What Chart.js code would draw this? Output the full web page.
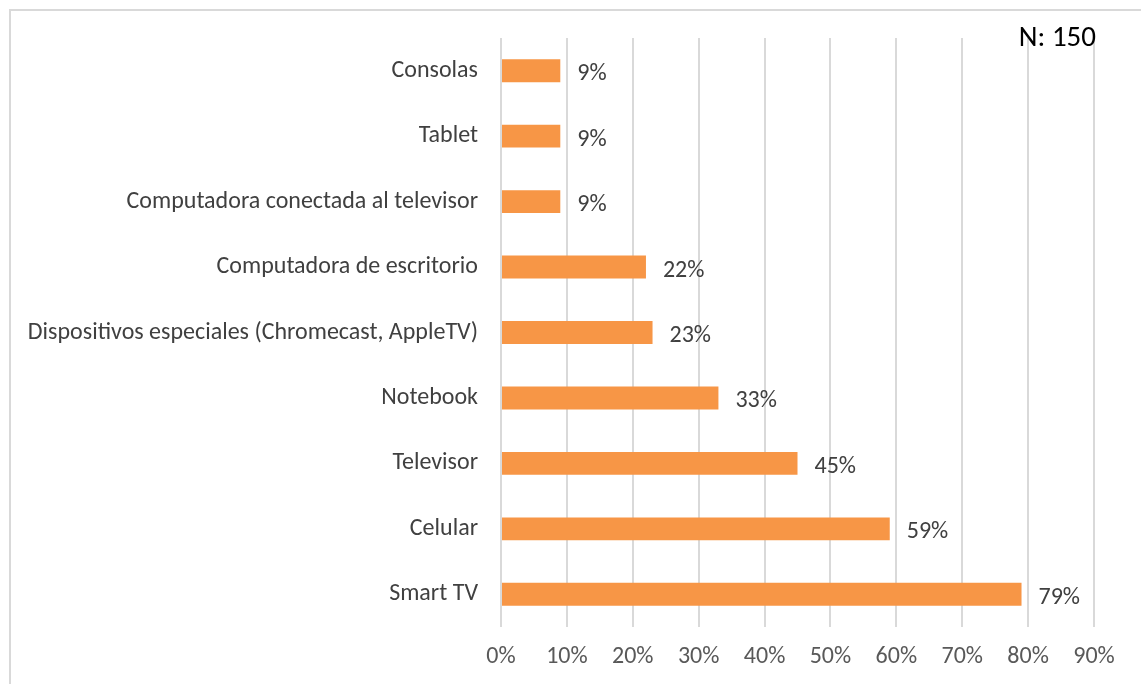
<!DOCTYPE html>
<html>
<head>
<meta charset="utf-8">
<script src="https://cdn.jsdelivr.net/npm/chart.js@4.4.1/dist/chart.umd.min.js"></script>
<style>
html,body{margin:0;padding:0;background:#fff;}
#wrap{position:relative;width:1141px;height:684px;}
</style>
</head>
<body>
<div id="wrap"><canvas id="c" width="1141" height="684"></canvas></div>
<script>
const categories = [
  "Consolas",
  "Tablet",
  "Computadora conectada al televisor",
  "Computadora de escritorio",
  "Dispositivos especiales (Chromecast, AppleTV)",
  "Notebook",
  "Televisor",
  "Celular",
  "Smart TV"
];
const values = [9, 9, 9, 22, 23, 33, 45, 59, 79];
const xTicks = [0, 10, 20, 30, 40, 50, 60, 70, 80, 90];
const noteText = "N: 150";

const FONT = "Carlito, Lato, 'Open Sans', sans-serif";

const extras = {
  id: 'extras',
  beforeDraw(chart) {
    const ctx = chart.ctx;
    ctx.save();
    ctx.strokeStyle = '#d9d9d9';
    ctx.lineWidth = 2;
    ctx.beginPath();
    ctx.moveTo(10, 684);
    ctx.lineTo(10, 10);
    ctx.lineTo(1141, 10);
    ctx.stroke();
    ctx.restore();
  },
  afterDatasetsDraw(chart) {
    const ctx = chart.ctx;
    const meta = chart.getDatasetMeta(0);
    ctx.save();
    ctx.font = "24px " + FONT;
    ctx.fillStyle = '#404040';
    ctx.textAlign = 'left';
    ctx.textBaseline = 'middle';
    meta.data.forEach((bar, i) => {
      ctx.fillText(values[i] + '%', bar.x + 17, bar.y + 3.5);
    });
    ctx.font = "29px " + FONT;
    ctx.fillStyle = '#000';
    ctx.textAlign = 'right';
    ctx.fillText(noteText, 1096, 39);
    ctx.restore();
  }
};

new Chart(document.getElementById('c'), {
  type: 'bar',
  data: {
    labels: categories,
    datasets: [{
      data: values,
      backgroundColor: '#F79646',
      borderWidth: 0,
      barPercentage: 0.35,
      categoryPercentage: 1.0
    }]
  },
  options: {
    indexAxis: 'y',
    responsive: false,
    animation: false,
    devicePixelRatio: 1,
    layout: { padding: { left: 0, top: 38, right: 47, bottom: 0 } },
    plugins: { legend: { display: false }, tooltip: { enabled: false } },
    scales: {
      x: {
        min: 0, max: 90,
        afterBuildTicks(scale) { scale.ticks = xTicks.map(v => ({ value: v })); },
        afterFit(scale) { scale.height = 57; },
        grid: { color: '#d9d9d9', lineWidth: 2, drawTicks: false },
        border: { display: false },
        ticks: {
          color: '#595959',
          font: { family: FONT, size: 24 },
          padding: 16,
          callback: v => v + '%'
        }
      },
      y: {
        afterFit(scale) { scale.width = 501; },
        grid: { display: false, drawTicks: false },
        border: { display: false },
        ticks: {
          color: '#404040',
          font: { family: FONT, size: 24 },
          padding: 23
        }
      }
    }
  },
  plugins: [extras]
});
</script>
</body>
</html>
